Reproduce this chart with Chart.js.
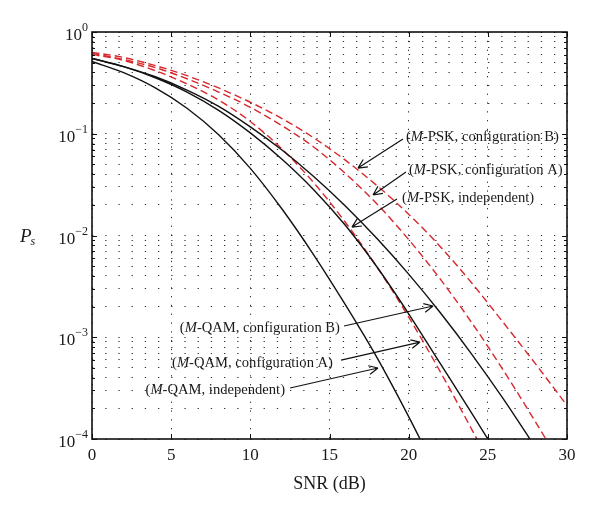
<!DOCTYPE html>
<html>
<head>
<meta charset="utf-8">
<script src="https://cdn.jsdelivr.net/npm/chart.js@4.4.1/dist/chart.umd.min.js"></script>
<style>
  html, body { margin: 0; padding: 0; background: #fff; }
  #wrap { width: 600px; height: 516px; }
</style>
</head>
<body>
<div id="wrap"><canvas id="chart" width="600" height="516"></canvas></div>
<script>
// --- Data (SNR in dB, symbol error probability Ps) ---
const snr = [0, 2, 4, 6, 8, 10, 12, 14, 16, 18, 20, 22, 24, 26, 28, 30];

const qamIndependent = [0.513, 0.398, 0.282, 0.178, 0.0977, 0.0457, 0.0182, 0.00646, 0.00209, 6.31e-4, 1.66e-4, 3.98e-5, null, null, null, null];
const qamConfigA     = [0.550, 0.457, 0.355, 0.257, 0.170, 0.102, 0.0562, 0.0282, 0.0126, 0.0049, 0.0017, 5.5e-4, 1.78e-4, 5.6e-5, null, null];
const qamConfigB     = [0.550, 0.457, 0.363, 0.269, 0.186, 0.117, 0.0692, 0.0380, 0.0195, 0.00933, 0.00417, 0.00174, 6.76e-4, 2.45e-4, 8.3e-5, null];
const pskIndependent = [0.603, 0.525, 0.417, 0.309, 0.214, 0.132, 0.0708, 0.0331, 0.0135, 0.0049, 0.00158, 4.57e-4, 1.23e-4, 3.2e-5, null, null];
const pskConfigA     = [0.617, 0.537, 0.447, 0.347, 0.257, 0.182, 0.120, 0.0741, 0.0407, 0.0204, 0.00912, 0.00372, 0.00138, 4.68e-4, 1.48e-4, 4.5e-5];
const pskConfigB     = [0.631, 0.562, 0.468, 0.372, 0.282, 0.204, 0.141, 0.0912, 0.0550, 0.0309, 0.0162, 0.00776, 0.00339, 0.00138, 5.5e-4, 2.14e-4];

const xTicks = [0, 5, 10, 15, 20, 25, 30];
const yDecadeExps = [0, -1, -2, -3, -4];
const mantissas = [1, 2, 3, 4, 5, 6, 7, 8, 9];

// annotation labels: text, anchor of text, start and tip of the arrow (data units)
const notes = [
  { mod: 'PSK', what: 'configuration B', align: 'left',  at: [19.83, 0.0929],  from: [19.64, 0.0887],  to: [16.80, 0.0460] },
  { mod: 'PSK', what: 'configuration A', align: 'left',  at: [20.02, 0.0441],  from: [19.83, 0.0421],  to: [17.75, 0.0250] },
  { mod: 'PSK', what: 'independent',     align: 'left',  at: [19.58, 0.0234],  from: [19.26, 0.0229],  to: [16.42, 0.0121] },
  { mod: 'QAM', what: 'configuration B', align: 'right', at: [15.66, 0.00123], from: [15.92, 0.00129], to: [21.54, 0.00203] },
  { mod: 'QAM', what: 'configuration A', align: 'right', at: [15.22, 5.58e-4], from: [15.73, 5.97e-4], to: [20.72, 8.97e-4] },
  { mod: 'QAM', what: 'independent',     align: 'right', at: [12.19, 3.03e-4], from: [12.51, 3.17e-4], to: [18.06, 4.99e-4] }
];

const SERIF = '"Liberation Serif", "DejaVu Serif", serif';
const BLACK = '#111111';
const RED = '#d8282c';

const gridVals = [];
yDecadeExps.slice().reverse().forEach(e => {
  mantissas.forEach(m => {
    const v = m * Math.pow(10, e);
    if (v <= 1.0000001) gridVals.push(v);
  });
});

function pts(vals) {
  return snr.map((x, i) => ({ x, y: vals[i] })).filter(p => p.y !== null);
}

function series(vals, dashed) {
  return {
    data: pts(vals),
    borderColor: dashed ? RED : BLACK,
    borderWidth: 1.4,
    borderDash: dashed ? [7.5, 4] : [],
    pointRadius: 0,
    cubicInterpolationMode: 'monotone',
    fill: false
  };
}

// --- Plugin: frame, inward ticks, y labels with exponents, y title, annotations ---
const decorations = {
  id: 'decorations',
  afterDraw(chart) {
    const { ctx, chartArea: a, scales: { x, y } } = chart;
    ctx.save();

    // inward tick marks
    ctx.strokeStyle = BLACK;
    ctx.lineWidth = 1;
    ctx.beginPath();
    xTicks.forEach(v => {
      const px = Math.round(x.getPixelForValue(v)) + 0.5;
      ctx.moveTo(px, a.bottom); ctx.lineTo(px, a.bottom - 5);
      ctx.moveTo(px, a.top); ctx.lineTo(px, a.top + 5);
    });
    gridVals.forEach(v => {
      const py = Math.round(y.getPixelForValue(v)) + 0.5;
      const major = Math.abs(Math.log10(v) - Math.round(Math.log10(v))) < 1e-6;
      const len = major ? 5 : 3;
      ctx.moveTo(a.left, py); ctx.lineTo(a.left + len, py);
      ctx.moveTo(a.right, py); ctx.lineTo(a.right - len, py);
    });
    ctx.stroke();

    // frame
    ctx.lineWidth = 1.6;
    ctx.strokeRect(a.left, a.top, a.right - a.left, a.bottom - a.top);

    // y tick labels 10^k
    ctx.fillStyle = '#1a1a1a';
    ctx.textBaseline = 'alphabetic';
    yDecadeExps.forEach(e => {
      const py = y.getPixelForValue(Math.pow(10, e));
      const exp = e === 0 ? '0' : '\u2212' + Math.abs(e);
      ctx.font = '12px ' + SERIF;
      const we = ctx.measureText(exp).width;
      ctx.textAlign = 'left';
      const xe = a.left - 4 - we;
      ctx.fillText(exp, xe, py - 1);
      ctx.font = '17px ' + SERIF;
      ctx.textAlign = 'right';
      ctx.fillText('10', xe, py + 8);
    });

    // y title P_s (upright, not rotated)
    ctx.textAlign = 'left';
    ctx.font = 'italic 19px ' + SERIF;
    ctx.fillText('P', 20, 242);
    const wp = ctx.measureText('P').width;
    ctx.font = 'italic 12px ' + SERIF;
    ctx.fillText('s', 19 + wp, 245);

    // annotations
    ctx.strokeStyle = BLACK;
    ctx.lineWidth = 1.2;
    notes.forEach(n => {
      const tx = x.getPixelForValue(n.at[0]);
      const ty = y.getPixelForValue(n.at[1]);
      const parts = [
        { s: '(', f: '14.6px ' + SERIF },
        { s: 'M', f: 'italic 14.6px ' + SERIF },
        { s: '-' + n.mod + ', ' + n.what + ')', f: '14.6px ' + SERIF }
      ];
      let total = 0;
      parts.forEach(p => { ctx.font = p.f; p.w = ctx.measureText(p.s).width; total += p.w; });
      let cx = n.align === 'right' ? tx - total : tx;
      ctx.textAlign = 'left';
      ctx.textBaseline = 'middle';
      parts.forEach(p => { ctx.font = p.f; ctx.fillText(p.s, cx, ty); cx += p.w; });

      const x0 = x.getPixelForValue(n.from[0]), y0 = y.getPixelForValue(n.from[1]);
      const x1 = x.getPixelForValue(n.to[0]), y1 = y.getPixelForValue(n.to[1]);
      const ang = Math.atan2(y1 - y0, x1 - x0);
      ctx.beginPath();
      ctx.moveTo(x0, y0); ctx.lineTo(x1, y1);
      [-0.45, 0.45].forEach(d => {
        ctx.moveTo(x1, y1);
        ctx.lineTo(x1 - 10 * Math.cos(ang + d), y1 - 10 * Math.sin(ang + d));
      });
      ctx.stroke();
    });

    ctx.restore();
  }
};

new Chart(document.getElementById('chart'), {
  type: 'line',
  data: {
    datasets: [
      series(qamIndependent, false),
      series(qamConfigA, false),
      series(qamConfigB, false),
      series(pskIndependent, true),
      series(pskConfigA, true),
      series(pskConfigB, true)
    ]
  },
  options: {
    responsive: false,
    animation: false,
    events: [],
    layout: { padding: { left: 0, right: 33, top: 32, bottom: 0 } },
    plugins: { legend: { display: false }, tooltip: { enabled: false } },
    scales: {
      x: {
        type: 'linear',
        min: 0,
        max: 30,
        afterBuildTicks: s => { s.ticks = xTicks.map(v => ({ value: v })); },
        afterFit: s => { s.height = 77; },
        grid: { color: 'rgba(0,0,0,0.8)', lineWidth: 1, drawTicks: false },
        border: { display: false, dash: [1.3, 7.5] },
        ticks: { color: '#1a1a1a', font: { family: SERIF, size: 17 }, padding: 6, maxRotation: 0 },
        title: { display: true, text: 'SNR (dB)', color: '#1a1a1a', font: { family: SERIF, size: 18 }, padding: { top: 0, bottom: 21 } }
      },
      y: {
        type: 'logarithmic',
        min: 1e-4,
        max: 1,
        afterBuildTicks: s => { s.ticks = gridVals.map(v => ({ value: v })); },
        afterFit: s => { s.width = 92; },
        grid: { color: 'rgba(0,0,0,0.8)', lineWidth: 1, drawTicks: false },
        border: { display: false, dash: [1.3, 11.9] },
        ticks: { display: false, autoSkip: false }
      }
    }
  },
  plugins: [decorations]
});
</script>
</body>
</html>
